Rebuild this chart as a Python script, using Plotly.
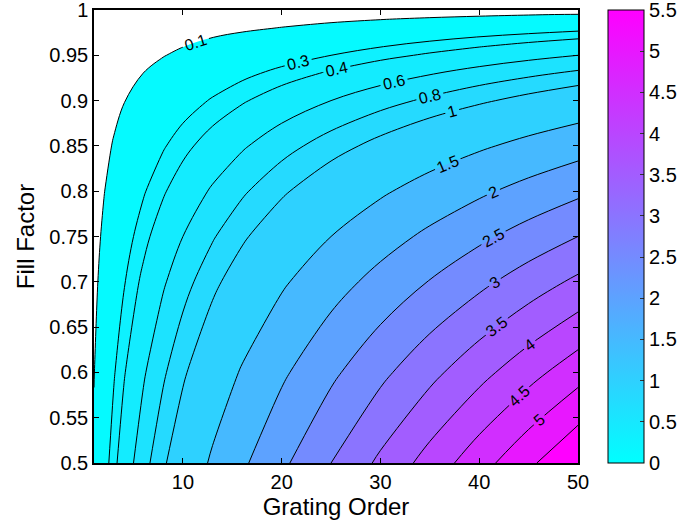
import plotly.graph_objects as go

# ---- data ----
grating_order = [1, 2, 3, 4, 6, 8, 10, 13, 16, 20, 25, 30, 35, 40, 45, 50]
fill_factor = [0.5, 0.6, 0.7, 0.75, 0.8, 0.85, 0.9, 0.93, 0.95, 0.96, 0.97, 0.98, 0.99, 0.995, 1.0]
z_values = [
    [0.12, 0.24, 0.36, 0.48, 0.72, 0.96, 1.2, 1.56, 1.92, 2.4, 3.0, 3.6, 4.2, 4.8, 5.4, 6.0],
    [0.096, 0.192, 0.288, 0.384, 0.576, 0.768, 0.96, 1.248, 1.536, 1.92, 2.4, 2.88, 3.36, 3.84, 4.32, 4.8],
    [0.072, 0.144, 0.216, 0.288, 0.432, 0.576, 0.72, 0.936, 1.152, 1.44, 1.8, 2.16, 2.52, 2.88, 3.24, 3.6],
    [0.06, 0.12, 0.18, 0.24, 0.36, 0.48, 0.6, 0.78, 0.96, 1.2, 1.5, 1.8, 2.1, 2.4, 2.7, 3.0],
    [0.048, 0.096, 0.144, 0.192, 0.288, 0.384, 0.48, 0.624, 0.768, 0.96, 1.2, 1.44, 1.68, 1.92, 2.16, 2.4],
    [0.036, 0.072, 0.108, 0.144, 0.216, 0.288, 0.36, 0.468, 0.576, 0.72, 0.9, 1.08, 1.26, 1.44, 1.62, 1.8],
    [0.024, 0.048, 0.072, 0.096, 0.144, 0.192, 0.24, 0.312, 0.384, 0.48, 0.6, 0.72, 0.84, 0.96, 1.08, 1.2],
    [0.0168, 0.0336, 0.0504, 0.0672, 0.1008, 0.1344, 0.168, 0.2184, 0.2688, 0.336, 0.42, 0.504, 0.588, 0.672, 0.756, 0.84],
    [0.012, 0.024, 0.036, 0.048, 0.072, 0.096, 0.12, 0.156, 0.192, 0.24, 0.3, 0.36, 0.42, 0.48, 0.54, 0.6],
    [0.0098, 0.0196, 0.0294, 0.0392, 0.0588, 0.0784, 0.098, 0.1274, 0.1568, 0.196, 0.245, 0.294, 0.343, 0.392, 0.441, 0.49],
    [0.0076, 0.0152, 0.0228, 0.0304, 0.0456, 0.0608, 0.076, 0.0988, 0.1216, 0.152, 0.19, 0.228, 0.266, 0.304, 0.342, 0.38],
    [0.0052, 0.0104, 0.0156, 0.0208, 0.0312, 0.0416, 0.052, 0.0676, 0.0832, 0.104, 0.13, 0.156, 0.182, 0.208, 0.234, 0.26],
    [0.0032, 0.0064, 0.0096, 0.0128, 0.0192, 0.0256, 0.032, 0.0416, 0.0512, 0.064, 0.08, 0.096, 0.112, 0.128, 0.144, 0.16],
    [0.0021, 0.0042, 0.0063, 0.0084, 0.0126, 0.0168, 0.021, 0.0273, 0.0336, 0.042, 0.0525, 0.063, 0.0735, 0.084, 0.0945, 0.105],
    [0, 0, 0, 0, 0, 0, 0, 0, 0, 0, 0, 0, 0, 0, 0, 0],
]
contour_levels = [0.1, 0.3, 0.4, 0.6, 0.8, 1, 1.5, 2, 2.5, 3, 3.5, 4, 4.5, 5, 5.5]
x_ticks = [10, 20, 30, 40, 50]
y_ticks = [0.5, 0.55, 0.6, 0.65, 0.7, 0.75, 0.8, 0.85, 0.9, 0.95, 1]
y_ticklabels = ["0.5", "0.55", "0.6", "0.65", "0.7", "0.75", "0.8", "0.85", "0.9", "0.95", "1"]
cbar_ticks = [0, 0.5, 1, 1.5, 2, 2.5, 3, 3.5, 4, 4.5, 5, 5.5]
cbar_ticklabels = ["0", "0.5", "1", "1.5", "2", "2.5", "3", "3.5", "4", "4.5", "5", "5.5"]
c_min, c_max = 0, 5.5

FONT = "Liberation Sans, Arial, sans-serif"


def cool(t):
    t = max(0.0, min(1.0, t))
    return "rgb(%d,%d,255)" % (round(255 * t), round(255 * (1 - t)))


SMOOTH = 1.0
fig = go.Figure()

# filled bands: plotly shades the region that violates the constraint,
# so "<" shades where the value exceeds the level
for lev in contour_levels:
    fig.add_trace(go.Contour(
        x=grating_order, y=fill_factor, z=z_values,
        contours=dict(type="constraint", operation="<", value=lev),
        fillcolor=cool((lev - c_min) / (c_max - c_min)),
        line=dict(width=0, smoothing=SMOOTH),
        showscale=False, hoverinfo="skip",
    ))

# contour lines with labels
for lev in contour_levels:
    fig.add_trace(go.Contour(
        x=grating_order, y=fill_factor, z=z_values,
        autocontour=False,
        contours=dict(start=lev, end=lev, size=1, coloring="none",
                      showlabels=True,
                      labelfont=dict(family=FONT, size=16, color="black")),
        line=dict(color="black", width=1, smoothing=SMOOTH),
        showscale=False, hoverinfo="skip",
    ))

# colorbar carrier
fig.add_trace(go.Scatter(
    x=[grating_order[0]], y=[fill_factor[0]], mode="markers",
    marker=dict(size=0, opacity=0, color=[c_min], cmin=c_min, cmax=c_max,
                colorscale=[[0, cool(0)], [1, cool(1)]], showscale=True,
                colorbar=dict(
                    x=1.0614, xanchor="left", xpad=0, ypad=0,
                    y=0.5, yanchor="middle", len=1.0, lenmode="fraction",
                    thickness=36, thicknessmode="pixels",
                    outlinewidth=1, outlinecolor="black",
                    tickmode="array", tickvals=cbar_ticks, ticktext=cbar_ticklabels,
                    ticks="inside", ticklen=4, tickcolor="#333", tickwidth=1,
                    ticklabeloverflow="allow",
                    tickfont=dict(family=FONT, size=20, color="black"),
                )),
    hoverinfo="skip", showlegend=False,
))

fig.update_layout(
    width=680, height=527,
    margin=dict(l=94, r=102, t=10, b=64, autoexpand=False),
    paper_bgcolor="white", plot_bgcolor="white",
    showlegend=False,
    font=dict(family=FONT, color="black"),
    xaxis=dict(
        range=[1, 50], tickmode="array", tickvals=x_ticks,
        ticks="inside", ticklen=5, tickwidth=1, tickcolor="black",
        showline=True, linewidth=1.5, linecolor="black", mirror="ticks",
        showgrid=False, zeroline=False, ticklabeloverflow="allow",
        tickfont=dict(family=FONT, size=20, color="black"),
        title=dict(text="Grating Order", font=dict(family=FONT, size=24, color="black"), standoff=4),
    ),
    yaxis=dict(
        range=[0.5, 1], tickmode="array", tickvals=y_ticks, ticktext=y_ticklabels,
        ticks="inside", ticklen=5, tickwidth=1, tickcolor="black",
        showline=True, linewidth=1.5, linecolor="black", mirror="ticks",
        showgrid=False, zeroline=False, ticklabeloverflow="allow",
        tickfont=dict(family=FONT, size=20, color="black"),
        title=dict(text="Fill Factor", font=dict(family=FONT, size=24, color="black"), standoff=8),
    ),
)

fig.write_html("out.html")
